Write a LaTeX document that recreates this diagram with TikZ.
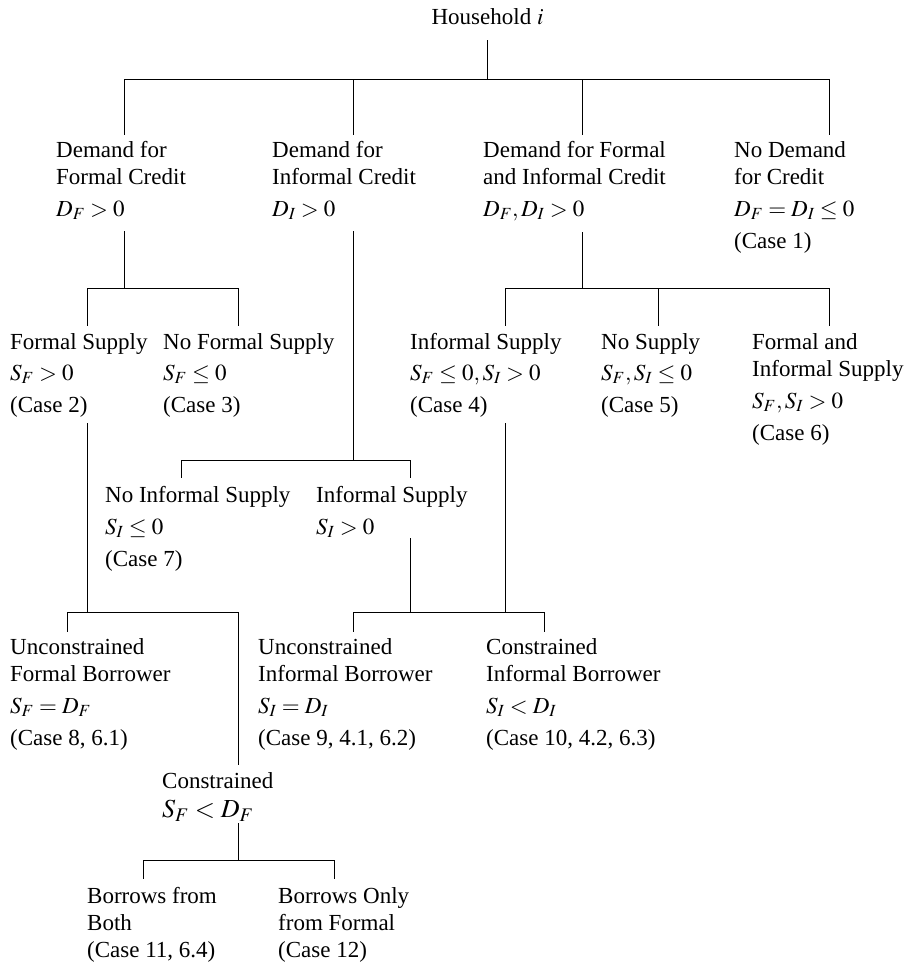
\documentclass[tikz,border=0pt]{standalone}
\usepackage{mathptmx}
\usepackage{fontspec}
\setmainfont{Liberation Serif}

\begin{document}
\begin{tikzpicture}[x=1pt,y=-1pt,
  lbl/.style={anchor=north west, inner sep=0pt, align=left, font=\fontsize{23}{27}\selectfont},
  tree/.style={line width=1pt}]
\useasboundingbox (0,0) rectangle (908,962);

% root
\node[lbl, anchor=base] (hh) at (487.5,24) {Household $i$};

% demand level
\node[lbl] (dfc) at (56,141) {Demand for\\Formal Credit\\[5pt]$D_F>0$};
\node[lbl] (dic) at (272,141) {Demand for\\Informal Credit\\[5pt]$D_I>0$};
\node[lbl] (dfi) at (483,141) {Demand for Formal\\and Informal Credit\\[5pt]$D_F,D_I>0$};
\node[lbl] (nod) at (734,141) {No Demand\\for Credit\\[5pt]$D_F=D_I\le0$\\[5pt](Case 1)};

% supply level
\node[lbl] (fs) at (10,333) {Formal Supply\\[4pt]$S_F>0$\\[5pt](Case 2)};
\node[lbl] (nfs) at (163,333) {No Formal Supply\\[4pt]$S_F\le0$\\[5pt](Case 3)};
\node[lbl] (is4) at (410,333) {Informal Supply\\[4pt]$S_F\le0,S_I>0$\\[5pt](Case 4)};
\node[lbl] (ns) at (601,333) {No Supply\\[4pt]$S_F,S_I\le0$\\[5pt](Case 5)};
\node[lbl] (fis) at (752,333) {Formal and\\Informal Supply\\[5pt]$S_F,S_I>0$\\[5pt](Case 6)};
\node[lbl] (nis) at (105,486) {No Informal Supply\\[5pt]$S_I\le0$\\[5pt](Case 7)};
\node[lbl] (is) at (316,486) {Informal Supply\\[5pt]$S_I>0$};

% borrower level
\node[lbl] (ufb) at (10,638) {Unconstrained\\Formal Borrower\\[5pt]$S_F=D_F$\\[5pt](Case 8, 6.1)};
\node[lbl] (uib) at (258,638) {Unconstrained\\Informal Borrower\\[5pt]$S_I=D_I$\\[5pt](Case 9, 4.1, 6.2)};
\node[lbl] (cib) at (486,638) {Constrained\\Informal Borrower\\[5pt]$S_I<D_I$\\[5pt](Case 10, 4.2, 6.3)};
\node[lbl] (cfb) at (162,772) {Constrained\\[2pt]{\fontsize{26}{27}\selectfont$S_F<D_F$}};
\node[lbl] (bfb) at (87,887) {Borrows from\\Both\\(Case 11, 6.4)};
\node[lbl] (bof) at (278,887) {Borrows Only\\from Formal\\(Case 12)};

% tree lines
\coordinate (r) at (487.5,79);
\draw[tree, shorten <=16pt] (hh.south) -- (r);
\coordinate (ra) at (124.5,79);
\coordinate (rb) at (353,79);
\coordinate (rc) at (582,79);
\coordinate (rd) at (829,79);
\draw[tree] (ra) -- (rd);
\foreach \j/\n in {ra/dfc, rb/dic, rc/dfi, rd/nod}
  \draw[tree, shorten >=6pt] (\j) -- (\j |- \n.north);

\coordinate (fa) at (124.5,288);
\draw[tree, shorten <=11pt] (ra |- dfc.south) -- (fa);
\coordinate (fb1) at (87,288);
\coordinate (fb2) at (238.5,288);
\draw[tree] (fb1) -- (fb2);
\foreach \j/\n in {fb1/fs, fb2/nfs}
  \draw[tree, shorten >=7pt] (\j) -- (\j |- \n.north);

\coordinate (ia) at (353,460);
\draw[tree, shorten <=11pt] (rb |- dic.south) -- (ia);
\coordinate (ib1) at (181.5,460);
\coordinate (ib2) at (410.5,460);
\draw[tree] (ib1) -- (ib2);
\foreach \j/\n in {ib1/nis, ib2/is}
  \draw[tree, shorten >=8pt] (\j) -- (\j |- \n.north);

\coordinate (ca) at (582,288);
\draw[tree, shorten <=11pt] (rc |- dfi.south) -- (ca);
\coordinate (cb1) at (505.5,288);
\coordinate (cb2) at (658,288);
\coordinate (cb3) at (829,288);
\draw[tree] (cb1) -- (cb3);
\foreach \j/\n in {cb1/is4, cb2/ns, cb3/fis}
  \draw[tree, shorten >=7pt] (\j) -- (\j |- \n.north);

\coordinate (ga) at (87,612);
\draw[tree, shorten <=6pt] (fb1 |- fs.south) -- (ga);
\coordinate (ga1) at (67.5,612);
\coordinate (ga2) at (238.5,612);
\draw[tree] (ga1) -- (ga2);
\draw[tree, shorten >=6pt] (ga1) -- (ga1 |- ufb.north);
\draw[tree, shorten >=7pt] (ga2) -- (ga2 |- cfb.north);

\coordinate (ha) at (505.5,612);
\coordinate (hb) at (410.5,612);
\draw[tree, shorten <=6pt] (cb1 |- is4.south) -- (ha);
\draw[tree] (ib2 |- is.south) -- (hb);
\coordinate (hc1) at (353,612);
\coordinate (hc2) at (544,612);
\draw[tree] (hc1) -- (hc2);
\foreach \j/\n in {hc1/uib, hc2/cib}
  \draw[tree, shorten >=6pt] (\j) -- (\j |- \n.north);

\coordinate (ka) at (238.5,860);
\draw[tree, shorten <=2pt] (ga2 |- cfb.south) -- (ka);
\coordinate (ka1) at (143,860);
\coordinate (ka2) at (334,860);
\draw[tree] (ka1) -- (ka2);
\foreach \j/\n in {ka1/bfb, ka2/bof}
  \draw[tree, shorten >=8pt] (\j) -- (\j |- \n.north);
\end{tikzpicture}
\end{document}
